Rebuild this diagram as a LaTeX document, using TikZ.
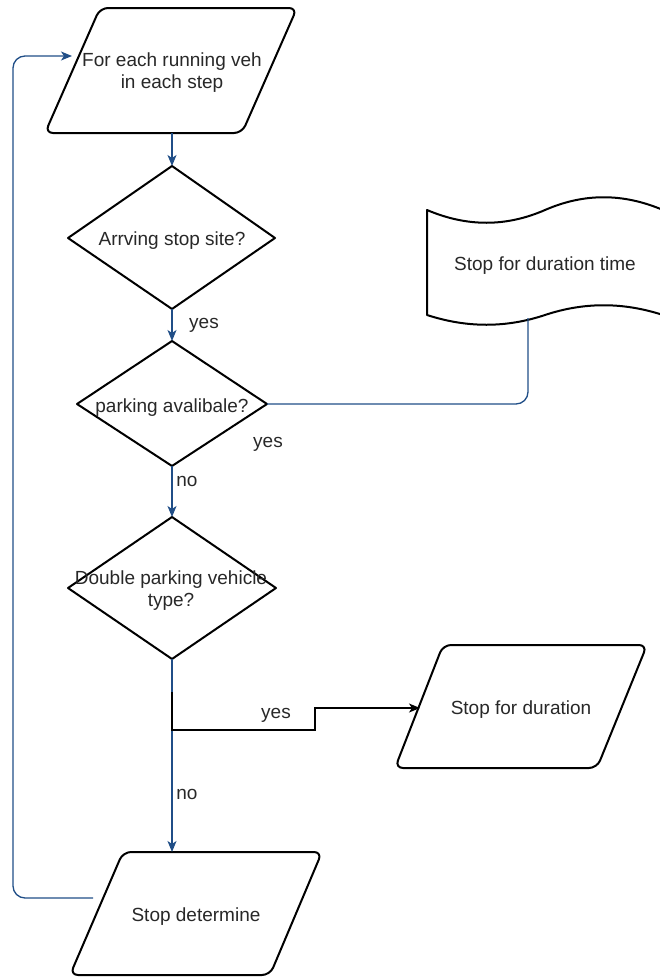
\documentclass[tikz,border=0pt]{standalone}
\usepackage{fontspec}
\setmainfont{Liberation Sans}
\usetikzlibrary{arrows.meta}
\definecolor{connblue}{RGB}{32,78,135}
\definecolor{txtgray}{RGB}{40,40,40}
\begin{document}
\begin{tikzpicture}[x=1pt,y=-1pt,
  shapeline/.style={draw=black, line width=2pt, fill=white, line join=round},
  conn/.style={draw=connblue, line width=1.3pt},
  yconn/.style={draw=black, line width=1.3pt},
  tip/.style={-{Stealth[length=11pt,width=9pt,inset=3pt]}},
  lbl/.style={font=\fontsize{19}{22}\selectfont, text=txtgray, inner sep=0pt, align=center},
]
\useasboundingbox (0,0) rectangle (660,977);

% ---------- shapes ----------
\begin{scope}
\clip (0,0) rectangle (660,977);
% tape
\draw[shapeline] (427,210) .. controls (467,227) and (506,227) .. (545,210)
  .. controls (584,193) and (623,193) .. (663,210) -- (663,315)
  .. controls (623,302) and (584,302) .. (545,315)
  .. controls (506,328) and (467,328) .. (427,315) -- cycle;
\end{scope}
\draw[shapeline, rounded corners=8pt] (100,8) -- (297,8) -- (242,133) -- (45,133) -- cycle;
\draw[shapeline] (172,166) -- (275,238) -- (172,309) -- (68,238) -- cycle;
\draw[shapeline] (172,341) -- (267,404) -- (172,466) -- (77,404) -- cycle;
\draw[shapeline] (172,517) -- (276,588) -- (172,659) -- (68,588) -- cycle;
\draw[shapeline, rounded corners=8pt] (443,645) -- (647,645) -- (597,768) -- (395,768) -- cycle;
\draw[shapeline, rounded corners=8pt] (123,852) -- (322,852) -- (270,975) -- (70,975) -- cycle;

% ---------- anchors ----------
\coordinate (p1b) at (172,133);
\coordinate (p1l) at (72,56);
\coordinate (d1t) at (172,166);
\coordinate (d1b) at (172,309);
\coordinate (d2t) at (172,341);
\coordinate (d2b) at (172,466);
\coordinate (d2r) at (267,404);
\coordinate (tapeb) at (528,318);
\coordinate (d3t) at (172,517);
\coordinate (d3b) at (172,659);
\coordinate (ystart) at (172,692);
\coordinate (p2l) at (420,708);
\coordinate (p3t) at (172,852);
\coordinate (p3l) at (93,898);

% ---------- texts ----------
\node[lbl] (t1) at (172,73) {For each running veh\\in each step};
\node[lbl] (t2) at (172,241) {Arrving stop site?};
\node[lbl] (t3) at (172,408) {parking avalibale?};
\node[lbl] (t4) at (171,591) {Double parking vehicle\\type?};
\node[lbl] (t5) at (545,266) {Stop for duration time};
\node[lbl] (t6) at (521,710) {Stop for duration};
\node[lbl] (t7) at (196,917) {Stop determine};

% ---------- connectors ----------
\draw[conn, tip] (p1b) -- (d1t);
\draw[conn, tip] (d1b) -- (d2t);
\draw[conn, tip] (d2b) -- (d3t);
\draw[conn, rounded corners=12pt] (d2r) -| (tapeb);
\draw[conn, tip] (d3b) -- (p3t);
\draw[yconn, tip] (ystart) -- (172,730) -- (315,730) -- (315,708) -- (p2l);
\draw[conn, tip, rounded corners=12pt] (p3l) -- (13,898) -- (13,56) -- (p1l);

% ---------- edge labels ----------
\node[lbl] (l1) at (204,325) {yes};
\node[lbl] (l2) at (268,444) {yes};
\node[lbl] (l3) at (187,481) {no};
\node[lbl] (l4) at (276,715) {yes};
\node[lbl] (l5) at (187,794) {no};
\end{tikzpicture}
\end{document}
